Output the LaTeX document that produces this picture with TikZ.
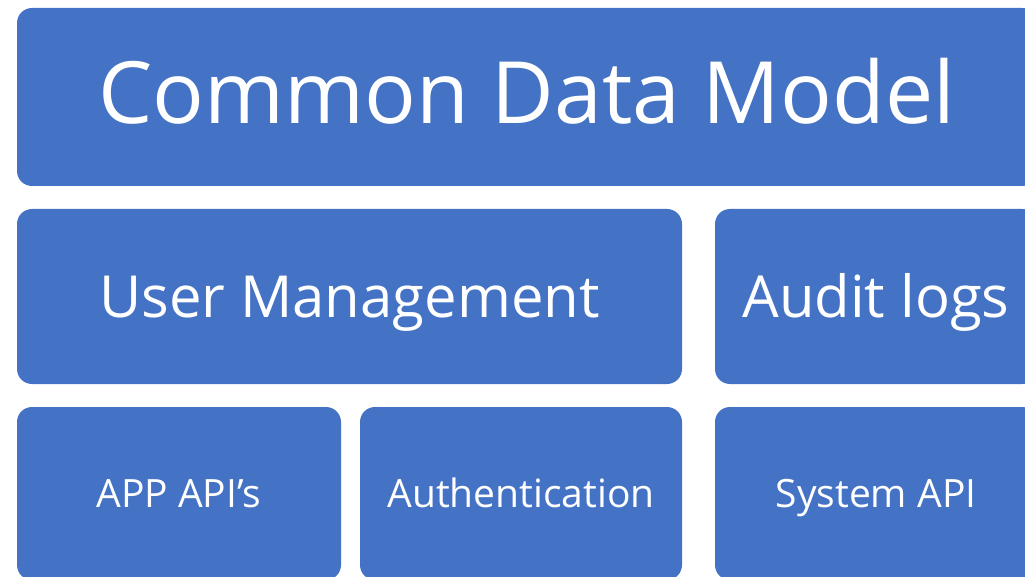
\documentclass[tikz,border=0pt]{standalone}
\usepackage{fontspec}
\setmainfont{Open Sans}
\definecolor{officeblue}{HTML}{4472C4}
\begin{document}
\begin{tikzpicture}[x=1pt,y=-1pt,
  blk/.style={fill=officeblue, draw=none, rounded corners=15pt, text=white, inner sep=0pt, anchor=center, text depth=0pt},
  big/.style={font=\fontsize{86}{90}\selectfont, text height=61.4pt, text depth=8pt},
  mid/.style={font=\fontsize{58}{62}\selectfont, text height=41.4pt},
  small/.style={font=\fontsize{39}{42}\selectfont, text height=27.8pt}]
\useasboundingbox (0,0) rectangle (1025,577);
\clip (0,0) rectangle (1025,577);
\fill[white] (0,0) rectangle (1025,577);
\node[blk, big, minimum width=1020pt, minimum height=178pt] (cdm) at (527,97) {Common Data Model};
\node[blk, mid, minimum width=665pt, minimum height=175pt] (um) at (349.5,296.5) {User Management};
\node[blk, mid, minimum width=322pt, minimum height=175pt] (al) at (876,296.5) {Audit logs};
\node[blk, small, minimum width=324pt, minimum height=173pt] (app) at (179,493.5) {APP API’s};
\node[blk, small, minimum width=322pt, minimum height=173pt] (auth) at (521,493.5) {Authentication};
\node[blk, small, minimum width=322pt, minimum height=173pt] (sys) at (876,493.5) {System API};
\end{tikzpicture}
\end{document}
